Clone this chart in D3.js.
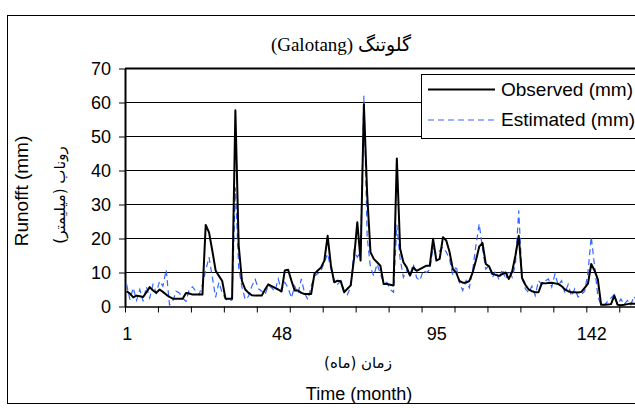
<!DOCTYPE html>
<html>
<head>
<meta charset="utf-8">
<script src="https://cdn.jsdelivr.net/npm/d3@7"></script>
<style>
  body { margin: 0; background: #fff; }
  text { font-family: Arial, "Liberation Sans", sans-serif; fill: #000; }
</style>
</head>
<body>
<div class="chart"></div>
<script>
// page size
const svgWidth = 635;
const svgHeight = 408;

// data (monthly runoff, mm)
const observed = [
  4.5, 3.8, 2.7, 3.2, 3, 2.8, 4.2, 5.7, 4.7, 4,
  5, 4.3, 3.5, 2.8, 2.3, 2.3, 2.3, 2.3, 4, 3.8,
  3.5, 3.5, 3.5, 3.5, 24, 21.8, 16.4, 10.6, 9, 7.5,
  2.3, 2.3, 2.3, 57.7, 18, 7.5, 5, 4, 3.3, 3.2,
  3.2, 3.2, 5, 6.5, 6, 5.5, 5, 4.4, 10.6, 10.8,
  7.6, 4.7, 4.7, 4, 3.7, 3.7, 3.7, 9.6, 10.6, 11.5,
  13.5, 20.8, 12, 7.1, 7.6, 7.4, 4.2, 5.2, 6.2, 14,
  24.8, 13.5, 59.5, 33, 16, 14, 13, 12, 6.6, 6.6,
  6.4, 6.2, 43.5, 17, 13, 11.5, 9.1, 11.5, 10.5, 11,
  11.5, 12, 12, 19.9, 13.5, 14, 20.4, 19.4, 16, 11,
  10, 7.5, 7, 7, 7.5, 10, 13.5, 17.6, 18.7, 12.5,
  11.8, 9.6, 9.3, 9, 9.5, 10, 8.1, 10.3, 15, 20.8,
  8.4, 6.4, 5, 4.5, 4.2, 4.2, 6.9, 6.8, 6.9, 7,
  6.8, 6.6, 6, 5, 4.5, 4.2, 4.2, 4.1, 4.3, 5.5,
  6.7, 12.5, 10.6, 8, 0.5, 0.5, 0.6, 0.7, 3.2, 0.5,
  0.4, 0.5, 0.7, 0.9, 0.8, 0.8, 0.7
];

const estimated = [
  6.5, 2, 5.5, 1.8, 5, 1.5, 5.8, 2.5, 6.5, 4,
  7.5, 6, 10.8, 0.5, 1.5, 4.5, 4, 2.5, 1.5, 5,
  5.8, 4.5, 3.5, 6.5, 10.6, 14.5, 8.6, 2.7, 7.1, 4,
  2.3, 1.5, 2, 35, 11.5, 5.7, 2, 3, 6, 8,
  5.2, 4.5, 3.5, 6.2, 5.5, 4.5, 8.1, 4.7, 7.1, 5.5,
  2.5, 6, 3.7, 8.1, 4, 2, 6, 9, 9.6, 10.6,
  13, 15.5, 11, 7.6, 6.5, 7.6, 4.7, 3.5, 5.7, 16.4,
  14.5, 16, 62, 20.4, 11.5, 9, 12.5, 9.6, 7.1, 7.1,
  5, 4.2, 24, 14, 8.6, 10.6, 9.1, 12.5, 8.5, 7.6,
  10.6, 10, 10.8, 17.4, 15.5, 16.4, 17.5, 16, 14, 9,
  12, 7, 4.7, 7.6, 5.5, 10.5, 18, 24.3, 17, 11,
  12, 8.5, 10.5, 7.8, 11, 8, 10.6, 8.6, 12.5, 28.2,
  8.6, 5.2, 4, 6, 3.2, 7.6, 6.5, 7.5, 8.1, 5.7,
  9.6, 6.2, 7.6, 4, 6.5, 3, 5.2, 2.8, 3.5, 4.5,
  10, 20.5, 12, 3, 0.3, 0.5, 1.5, 2.5, 3.5, 0.5,
  2.2, 0.6, 1.8, 0.5, 3, 1, 0.8
];

const yTicks = [0, 10, 20, 30, 40, 50, 60, 70];
const xLabels = [1, 48, 95, 142];
const monthTickStep = 10;

const titleText = "(Galotang) گلوتنگ";
const xTitleFa = "زمان (ماه)";
const xTitleEn = "Time (month)";
const yTitleEn = "Runofft (mm)";
const yTitleFa = "روناب (میلیمتر)";
const seriesNames = ["Observed (mm)", "Estimated (mm)"];

// plot area
const plot = { left: 125, top: 68.5, bottom: 306.5, monthWidth: 3.295 };
const n = observed.length;
const plotRight = plot.left + n * plot.monthWidth;

const svg = d3.select(".chart")
  .append("svg")
  .attr("width", svgWidth)
  .attr("height", svgHeight);

// outer chart border (cropped on the right like the original)
svg.append("rect")
  .attr("x", 7.5).attr("y", 15.5)
  .attr("width", 680).attr("height", 388)
  .attr("fill", "#fff")
  .attr("stroke", "#000")
  .attr("stroke-width", 1);

// scales
const xScale = d3.scaleLinear()
  .domain([0, n])
  .range([plot.left, plotRight]);

const yScale = d3.scaleLinear()
  .domain([0, 70])
  .range([plot.bottom, plot.top]);

// gridlines
svg.append("g")
  .selectAll("line")
  .data(yTicks.slice(1))
  .enter()
  .append("line")
  .attr("x1", plot.left).attr("x2", plotRight)
  .attr("y1", d => yScale(d)).attr("y2", d => yScale(d))
  .attr("stroke", "#000")
  .attr("stroke-width", d => d === 70 ? 2 : 1);

// y axis
const yAxis = svg.append("g")
  .attr("transform", `translate(${plot.left},0)`)
  .call(d3.axisLeft(yScale).tickValues(yTicks).tickSize(6).tickPadding(8).tickSizeOuter(0));
yAxis.select(".domain").attr("stroke-width", 2);
yAxis.selectAll("text").style("font-size", "18px").attr("font-family", null);

// x axis: ticks every 10 months at category edges
const monthTicks = d3.range(0, n + 1, monthTickStep);
const xAxis = svg.append("g")
  .attr("transform", `translate(0,${plot.bottom})`)
  .call(d3.axisBottom(xScale).tickValues(monthTicks).tickSize(6).tickFormat("").tickSizeOuter(0));
xAxis.select(".domain").attr("stroke-width", 1.5);

// x labels centred on their month
const xLab = svg.append("g")
  .attr("transform", `translate(0,${plot.bottom})`)
  .call(d3.axisBottom(xScale).tickValues(xLabels.map(d => d - 0.5))
    .tickFormat(d => d + 0.5).tickSize(0).tickPadding(21));
xLab.select(".domain").remove();
xLab.selectAll("text").style("font-size", "18px").attr("font-family", null);

// lines
const line = d3.line()
  .x((d, i) => xScale(i + 0.5))
  .y(d => yScale(d));

svg.append("path")
  .attr("d", line(estimated))
  .attr("fill", "none")
  .attr("stroke", "#3366ff")
  .attr("stroke-width", 1.2)
  .attr("stroke-dasharray", "6,4");

svg.append("path")
  .attr("d", line(observed))
  .attr("fill", "none")
  .attr("stroke", "#000")
  .attr("stroke-width", 2)
  .attr("stroke-linejoin", "round");

// legend
const legend = svg.append("g");
legend.append("rect")
  .attr("x", 421.5).attr("y", 74.5)
  .attr("width", 260).attr("height", 64)
  .attr("fill", "#fff")
  .attr("stroke", "#000");
legend.append("line")
  .attr("x1", 428).attr("x2", 495).attr("y1", 89.5).attr("y2", 89.5)
  .attr("stroke", "#000").attr("stroke-width", 2);
legend.append("line")
  .attr("x1", 428).attr("x2", 495).attr("y1", 120).attr("y2", 120)
  .attr("stroke", "#3366ff").attr("stroke-width", 1.2).attr("stroke-dasharray", "6,4");
legend.selectAll("text")
  .data(seriesNames)
  .enter()
  .append("text")
  .attr("x", 501)
  .attr("y", (d, i) => i === 0 ? 96 : 126)
  .style("font-size", "19px")
  .text(d => d);

// title
svg.append("text")
  .attr("x", 341).attr("y", 51)
  .attr("text-anchor", "middle")
  .style("font-family", "'Liberation Serif', 'DejaVu Sans', serif")
  .style("font-size", "19px")
  .text(titleText);

// axis titles
svg.append("text")
  .attr("x", 358).attr("y", 368)
  .attr("text-anchor", "middle")
  .attr("direction", "rtl")
  .style("font-family", "'DejaVu Sans', sans-serif")
  .style("font-size", "15px")
  .text(xTitleFa);

svg.append("text")
  .attr("x", 359).attr("y", 400)
  .attr("text-anchor", "middle")
  .style("font-size", "18px")
  .text(xTitleEn);

svg.append("text")
  .attr("transform", "translate(28,191) rotate(-90)")
  .attr("text-anchor", "middle")
  .style("font-size", "19px")
  .text(yTitleEn);

svg.append("text")
  .attr("transform", "translate(65,195) rotate(-90)")
  .attr("text-anchor", "middle")
  .attr("direction", "rtl")
  .style("font-family", "'DejaVu Sans', sans-serif")
  .style("font-size", "15px")
  .text(yTitleFa);
</script>
</body>
</html>
